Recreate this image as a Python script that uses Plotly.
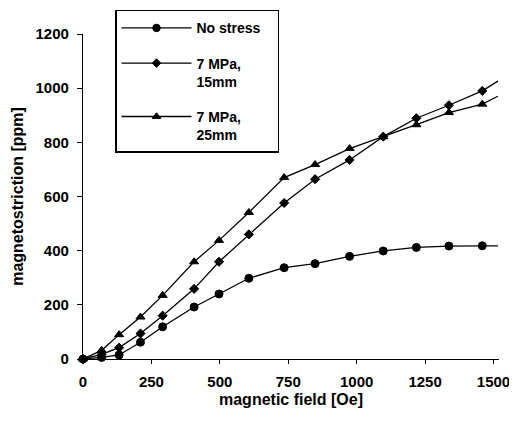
import plotly.graph_objects as go

field = [0, 68, 132, 210, 291, 406, 497, 606, 735, 848, 974, 1097, 1218, 1337, 1459, 1516]
no_stress = [0, 6, 15, 62, 119, 192, 240, 298, 337, 352, 379, 399, 412, 417, 418, 418]
mpa7_15mm = [0, 17, 42, 94, 160, 259, 359, 460, 576, 664, 735, 821, 889, 937, 990, 1026]
mpa7_25mm = [0, 32, 90, 155, 235, 359, 438, 541, 670, 718, 777, 821, 865, 910, 941, 970]

series_names = ["No stress", "7 MPa,<br>15mm", "7 MPa,<br>25mm"]
x_ticks = [0, 250, 500, 750, 1000, 1250, 1500]
y_ticks = [0, 200, 400, 600, 800, 1000, 1200]

FONT = "Arial, Liberation Sans, Helvetica, sans-serif"
symbols = ["circle", "diamond", "triangle-up"]
sizes = [8, 7, 8]

# page body has an 8px margin: figure is drawn 8px right/down of the window origin
OFF = 8
W, H = 517 - OFF, 421 - OFF
PL, PT, PR, PB = 83 - OFF, 34 - OFF, 499 - OFF, 359 - OFF

fig = go.Figure()
for name, ys, sym, sz in zip(series_names, [no_stress, mpa7_15mm, mpa7_25mm], symbols, sizes):
    msizes = [sz] * (len(field) - 1) + [0]
    # trailing non-breaking spaces widen the legend box like the original
    label = name + "\u00a0\u00a0\u00a0" if name == "No stress" else name
    fig.add_trace(go.Scatter(
        x=field, y=ys, name=label, legendgroup=name,
        mode="lines+markers",
        line=dict(color="black", width=1.3),
        marker=dict(symbol=sym, size=msizes, color="black", opacity=1,
                    line=dict(width=1, color="black")),
        cliponaxis=False,
    ))

fig.update_layout(
    width=W, height=H,
    margin=dict(l=PL, r=W - PR, t=PT, b=H - PB, autoexpand=False),
    paper_bgcolor="white", plot_bgcolor="white",
    font=dict(family=FONT, color="black", size=14, weight="bold"),
    showlegend=True,
    legend=dict(
        x=(115 - 83) / (PR - PL), y=(PB - 1.5) / (PB - PT), xanchor="left", yanchor="top",
        bordercolor="black", borderwidth=1.5, bgcolor="white",
        font=dict(family=FONT, size=14, color="black", weight="bold"),
        tracegroupgap=14, valign="top", itemwidth=70,
        title=dict(text="\u00a0", font=dict(size=1)),
    ),
)
fig.update_xaxes(
    range=[0, 1520], tickvals=x_ticks, ticktext=[str(v) for v in x_ticks],
    showgrid=False, zeroline=False, showline=True, linecolor="black", linewidth=1.3,
    ticks="outside", ticklen=4, tickcolor="black", ticklabelstandoff=5,
    ticklabeloverflow="allow",
    tickfont=dict(family=FONT, size=15, weight="bold"),
    title=dict(text="magnetic field [Oe]", font=dict(family=FONT, size=16, weight="bold"), standoff=4),
)
fig.update_yaxes(
    range=[0, 1200], tickvals=y_ticks, ticktext=[str(v) for v in y_ticks],
    showgrid=False, zeroline=False, showline=True, linecolor="black", linewidth=1.3,
    ticks="outside", ticklen=5, tickcolor="black", ticklabelstandoff=5,
    tickfont=dict(family=FONT, size=15, weight="bold"),
    title=dict(text="magnetostriction [ppm]", font=dict(family=FONT, size=16, weight="bold"), standoff=7),
)

fig.write_html("out.html")
